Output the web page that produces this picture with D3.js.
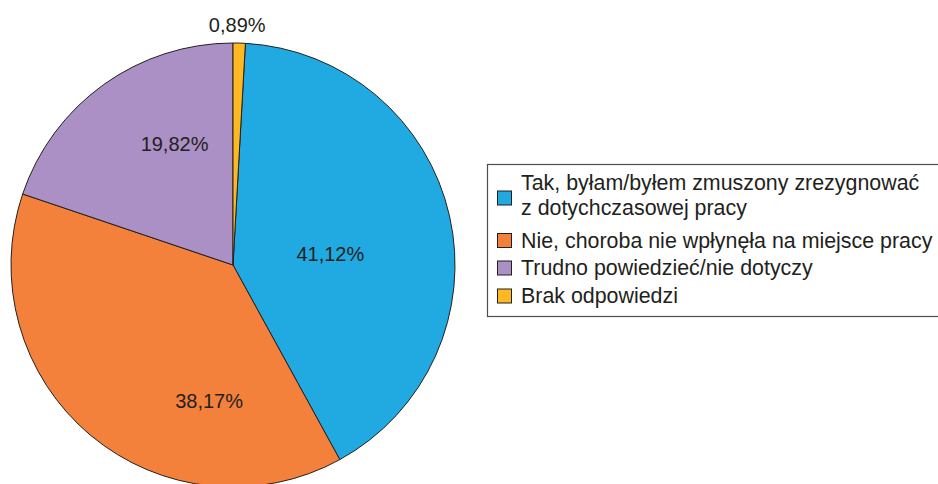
<!DOCTYPE html>
<html>
<head>
<meta charset="utf-8">
<script src="https://cdn.jsdelivr.net/npm/d3@7"></script>
<style>
  html, body { margin: 0; padding: 0; background: #fff; }
  svg { display: block; font-family: "Liberation Sans", Arial, sans-serif; }
</style>
</head>
<body>
<div id="chart"></div>
<script>
////////////////////////////////////////////////////////////////
// Data

let categories = [
  ["Tak, byłam/byłem zmuszony zrezygnować", "z dotychczasowej pracy"],
  ["Nie, choroba nie wpłynęła na miejsce pracy"],
  ["Trudno powiedzieć/nie dotyczy"],
  ["Brak odpowiedzi"]
]
let values = [41.12, 38.17, 19.82, 0.89]
let valueLabels = ["41,12%", "38,17%", "19,82%", "0,89%"]
let colors = ["#21aae2", "#f4813b", "#aa90c4", "#fdb824"]

// where Excel put each label: angle (deg, clockwise from top) and distance from centre
let labelPlacement = [[83.3, 98], [190, 137.6], [334.3, 134.8], [1, 240.5]]

////////////////////////////////////////////////////////////////
// Setup

let width = 938, height = 484
let svg = d3.select("#chart").append("svg")
  .attr("width", width)
  .attr("height", height)

let cx = 233, cy = 265, radius = 222

// pie starts so the small slice sits just right of the top
let total = d3.sum(values)
let start = 2 * Math.PI * values[3] / total
let pie = d3.pie().sort(null).startAngle(start).endAngle(start + 2 * Math.PI)
let arc = d3.arc().innerRadius(0).outerRadius(radius)

let g = svg.append("g").attr("transform", `translate(${cx},${cy})`)

g.selectAll("path")
  .data(pie(values))
  .enter()
  .append("path")
  .attr("d", arc)
  .attr("fill", (d, i) => colors[i])
  .attr("stroke", "#231f20")
  .attr("stroke-width", 1)

// value labels
g.selectAll("text.val")
  .data(valueLabels)
  .enter()
  .append("text")
  .attr("class", "val")
  .attr("x", (d, i) => labelPlacement[i][1] * Math.sin(labelPlacement[i][0] * Math.PI / 180))
  .attr("y", (d, i) => -labelPlacement[i][1] * Math.cos(labelPlacement[i][0] * Math.PI / 180) + 7.5)
  .attr("text-anchor", "middle")
  .attr("font-size", 20)
  .attr("fill", "#231f20")
  .text(d => d)

////////////////////////////////////////////////////////////////
// Legend

let legend = svg.append("g")

legend.append("rect")
  .attr("x", 487.5)
  .attr("y", 164.5)
  .attr("width", 460)
  .attr("height", 152)
  .attr("fill", "none")
  .attr("stroke", "#4d4d4f")
  .attr("stroke-width", 1.2)

let rowY = [198, 240.5, 268, 296]
let lineGap = 25

let items = legend.selectAll("g.item")
  .data(categories)
  .enter()
  .append("g")
  .attr("class", "item")

items.append("rect")
  .attr("x", 497.5)
  .attr("y", (d, i) => rowY[i] - 7)
  .attr("width", 14)
  .attr("height", 14)
  .attr("fill", (d, i) => colors[i])
  .attr("stroke", "#231f20")
  .attr("stroke-width", 1)

items.each(function(lines, i) {
  let first = rowY[i] + 7 - (lines.length - 1) * lineGap / 2 - (lines.length > 1 ? 2.5 : 0)
  let t = d3.select(this).append("text")
    .attr("font-size", 21.4)
    .attr("fill", "#231f20")
  lines.forEach((line, k) => {
    t.append("tspan")
      .attr("x", 521)
      .attr("y", first + k * lineGap)
      .text(line)
  })
})
</script>
</body>
</html>
